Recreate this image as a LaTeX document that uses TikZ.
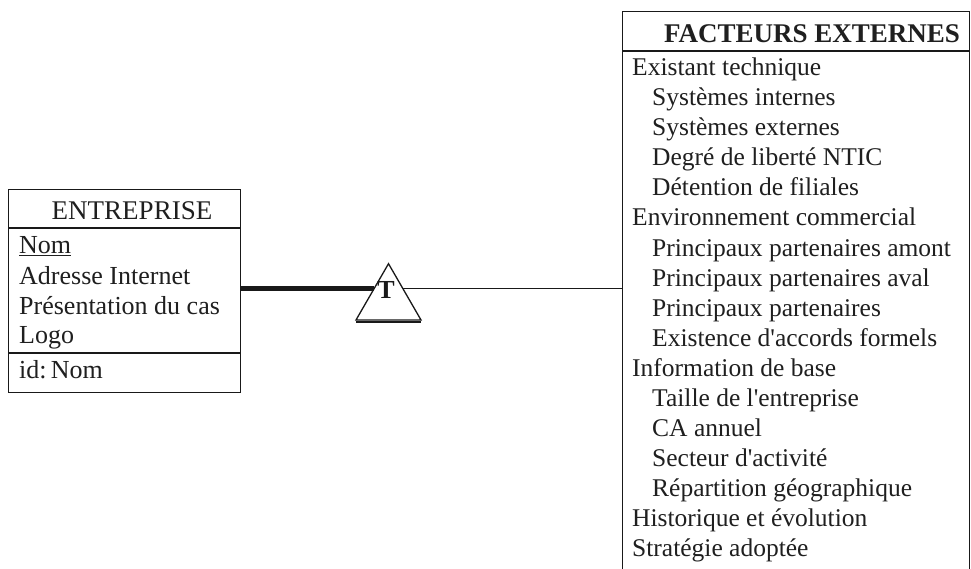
\documentclass[tikz,border=0pt]{standalone}
\usepackage{fontspec}
\setmainfont{Liberation Serif}
\usetikzlibrary{shapes.geometric,calc}

\tikzset{
  frame/.style={draw=black!90, line width=1.3pt, inner sep=0pt, anchor=north west},
  rule/.style={draw=black!90, line width=1.3pt},
  txt/.style={anchor=base west, inner sep=0pt, text=black!88,
              font=\fontsize{25.5}{30}\selectfont},
  ltxt/.style={txt, font=\fontsize{26}{30}\selectfont},
  head/.style={anchor=base, inner sep=0pt, text=black!88,
               font=\fontsize{27}{30}\selectfont},
  thickln/.style={draw=black!90, line width=5pt},
  thinln/.style={draw=black!90, line width=1.2pt},
}
\newcommand{\apos}{\textquotesingle}

\begin{document}
\begin{tikzpicture}[x=1pt, y=-1pt]
  \useasboundingbox[fill=white] (0,0) rectangle (971,569);

  % ---- ENTREPRISE entity ----
  \node[frame, minimum width=232pt, minimum height=203pt] (ent) at (8,189) {};
  \draw[rule] (ent.west |- 0,228) -- (ent.east |- 0,228);
  \draw[rule] (ent.west |- 0,353) -- (ent.east |- 0,353);
  \node[head] (entname) at (132,220) {ENTREPRISE};
  \node[ltxt] (e1) at (19,254) {\underline{Nom}};
  \node[ltxt] (e2) at (19,284) {Adresse Internet};
  \node[ltxt] (e3) at (19,314) {Présentation du cas};
  \node[ltxt] (e4) at (19,343) {Logo};
  \node[ltxt] (e5) at (19,378) {id:\,Nom};

  % ---- FACTEURS EXTERNES entity (runs past the lower edge) ----
  \node[frame, minimum width=347pt, minimum height=600pt] (fac) at (622,11) {};
  \draw[rule] (fac.west |- 0,51) -- (fac.east |- 0,51);
  \node[head, font=\fontsize{27}{30}\selectfont\bfseries] (facname) at (812,43) {FACTEURS EXTERNES};
  \foreach \t/\ind [count=\i from 0] in {
      Existant technique/0,
      Systèmes internes/1,
      Systèmes externes/1,
      Degré de liberté NTIC/1,
      Détention de filiales/1,
      Environnement commercial/0,
      Principaux partenaires amont/1,
      Principaux partenaires aval/1,
      Principaux partenaires/1,
      Existence d\apos accords formels/1,
      Information de base/0,
      Taille de l\apos entreprise/1,
      CA annuel/1,
      Secteur d\apos activité/1,
      Répartition géographique/1,
      Historique et évolution/0,
      Stratégie adoptée/0}
    \node[txt] (f\i) at (632+20*\ind, 76+30*\i) {\t};

  % ---- is-a triangle ----
  \node[regular polygon, regular polygon sides=3, draw=black!90, line width=1.3pt,
        fill=white, minimum size=75pt, inner sep=0pt] (tri) at (388.5,301.2) {};
  \draw[black!90, line width=2.2pt] ($(tri.corner 2)+(1,1)$) -- ($(tri.corner 3)+(-1,1)$);
  \node[anchor=base, inner sep=0pt, font=\fontsize{26}{26}\selectfont\bfseries, text=black!90]
       (tlabel) at (386,298) {T};

  % ---- connectors ----
  \coordinate (tl) at ($(tri.corner 1)!0.446!(tri.corner 2)$);
  \coordinate (tr) at ($(tri.corner 1)!0.446!(tri.corner 3)$);
  \draw[thickln] (ent.east |- tl) -- (tl);
  \draw[thinln] (tr) -- (tr -| fac.west);
\end{tikzpicture}
\end{document}
